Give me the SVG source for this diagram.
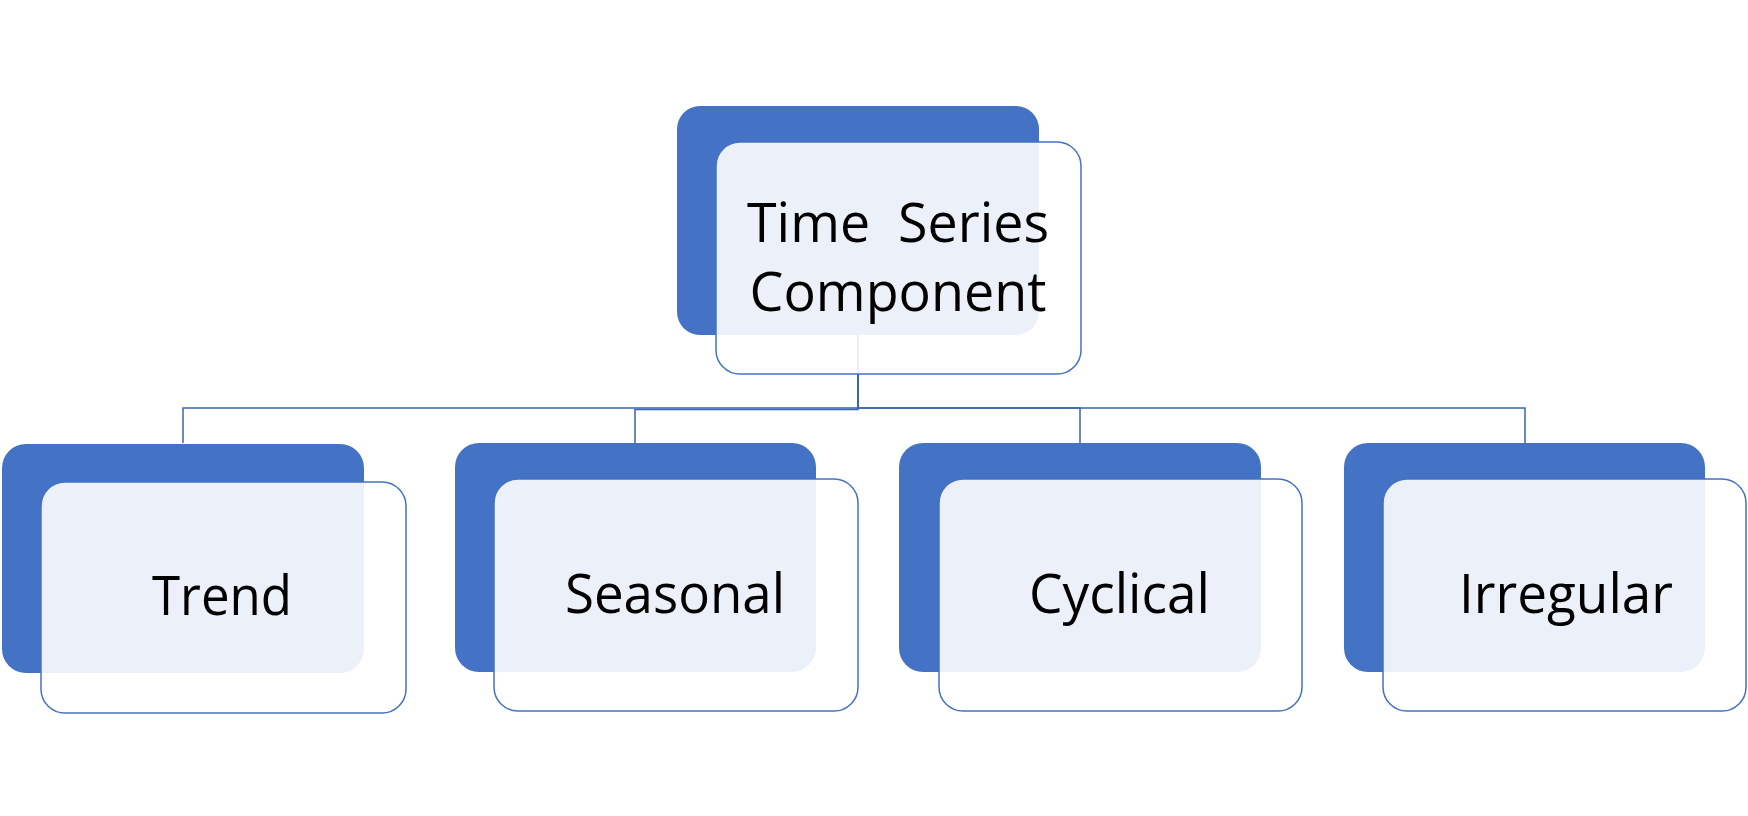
<svg xmlns="http://www.w3.org/2000/svg" width="1748" height="816" viewBox="0 0 1748 816">
<style>
.back{fill:#4472C4;}
.front{fill:#FFFFFF;fill-opacity:0.9;stroke:#4472C4;stroke-width:1.5;}
.conn{fill:none;stroke:#3A64B0;stroke-width:1.5;}
.lbl{font-family:"Open Sans","Noto Sans","Liberation Sans",sans-serif;font-size:54px;fill:#000000;text-anchor:middle;}
</style>
<rect width="1748" height="816" fill="#FFFFFF"/>
<g id="connectors">
<path class="conn" d="M858 335 V408 H183 V443"/>
<path class="conn" d="M858 335 V409.5 H635 V443"/>
<path class="conn" d="M858 335 V408 H1080 V443"/>
<path class="conn" d="M858 335 V408 H1525 V443"/>
</g>
<g id="node-root">
<rect class="back" x="677" y="106" width="362" height="229" rx="23"/>
<rect class="front" x="716" y="142" width="365" height="232" rx="24"/>
<text class="lbl" x="898" y="242" xml:space="preserve" textLength="302" lengthAdjust="spacingAndGlyphs">Time  Series</text>
<text class="lbl" x="898" y="311" textLength="297" lengthAdjust="spacingAndGlyphs">Component</text>
</g>
<g id="node-trend">
<rect class="back" x="2" y="444" width="362" height="229" rx="24"/>
<rect class="front" x="41" y="482" width="365" height="231" rx="24"/>
<text class="lbl" x="222" y="615" textLength="140" lengthAdjust="spacingAndGlyphs">Trend</text>
</g>
<g id="node-seasonal">
<rect class="back" x="455" y="443" width="361" height="229" rx="24"/>
<rect class="front" x="494" y="479" width="364" height="232" rx="24"/>
<text class="lbl" x="675" y="613" textLength="220" lengthAdjust="spacingAndGlyphs">Seasonal</text>
</g>
<g id="node-cyclical">
<rect class="back" x="899" y="443" width="362" height="229" rx="24"/>
<rect class="front" x="939" y="479" width="363" height="232" rx="24"/>
<text class="lbl" x="1119.5" y="613" textLength="181" lengthAdjust="spacingAndGlyphs">Cyclical</text>
</g>
<g id="node-irregular">
<rect class="back" x="1344" y="443" width="361" height="229" rx="24"/>
<rect class="front" x="1383" y="479" width="363" height="232" rx="24"/>
<text class="lbl" x="1566" y="613" textLength="214" lengthAdjust="spacingAndGlyphs">Irregular</text>
</g>
</svg>
